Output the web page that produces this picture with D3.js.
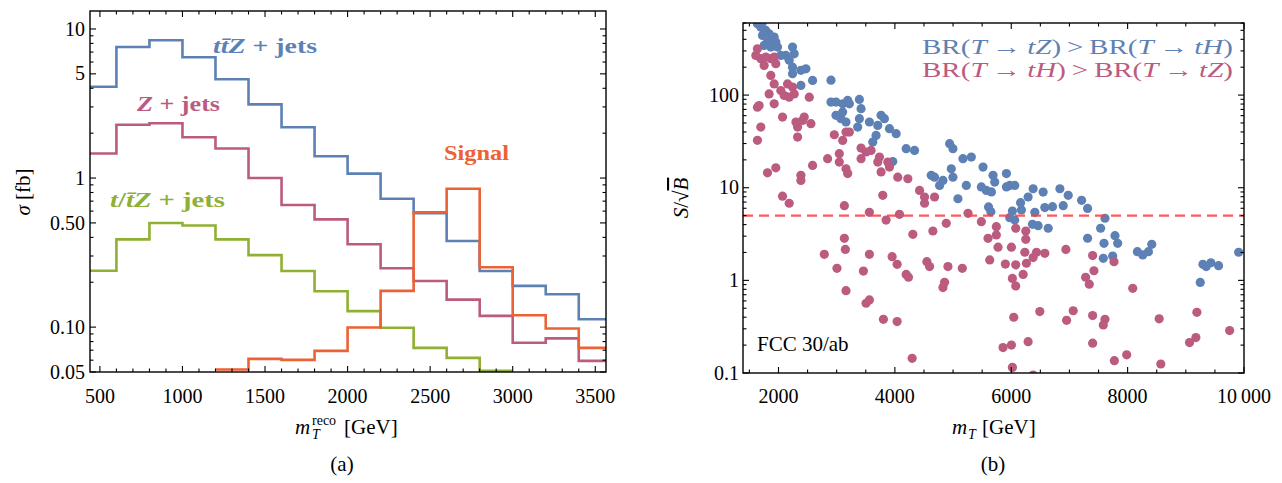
<!DOCTYPE html>
<html lang="en">
<head>
<meta charset="UTF-8" />
<title>Histograms and S/sqrt(B)</title>
<script src="https://d3js.org/d3.v7.min.js"></script>
<style>
  body { margin: 0; background: #ffffff; }
  svg text { font-family: "Liberation Serif", "DejaVu Serif", serif; }
</style>
</head>
<body>
<svg id="fig" width="1282" height="483"></svg>
<script>
// ---- panel (a): histogram bins (GeV) and cross sections (fb)
const binEdges = [400, 600, 800, 1000, 1200, 1400, 1600, 1800, 2000, 2200, 2400, 2600, 2800, 3000, 3200, 3400, 3600];
const ttZ    = [4.1, 7.57, 8.4, 6.46, 4.6, 3.12, 2.19, 1.40, 1.07, 0.726, 0.58, 0.378, 0.238, 0.189, 0.166, 0.113];
const Zjets  = [1.46, 2.28, 2.33, 1.88, 1.58, 1.0, 0.66, 0.528, 0.36, 0.248, 0.204, 0.153, 0.119, 0.0785, 0.084, 0.0594];
const tZjets = [0.239, 0.388, 0.50, 0.481, 0.388, 0.304, 0.238, 0.174, 0.128, 0.099, 0.0726, 0.0622, 0.051, null, null, null];
const signal = [null, null, null, null, 0.052, 0.0612, 0.0603, 0.0693, 0.0995, 0.175, 0.589, 0.848, 0.252, 0.12, 0.098, 0.0726];

const aXTicks = [500, 1000, 1500, 2000, 2500, 3000, 3500];
const aYTicks = [0.05, 0.1, 0.5, 1, 5, 10];
const aYLabels = ["0.05", "0.10", "0.50", "1", "5", "10"];

// ---- panel (b): scan points, m_T (GeV) and S/sqrt(B)
const blueMass = [1638, 1696, 1782, 1725, 1839, 1926, 1954, 1811, 1868, 1753, 1983, 2040, 2127, 2241, 2270, 2184, 2241, 2241, 2385, 2471,
  2385, 2586, 2902, 2902, 2988, 3103, 3189, 3218, 3390, 3419, 2988, 3103, 3074, 3160, 3390, 3361, 3562, 3706, 3763, 3821,
  3677, 3620, 3907, 4022, 4194, 4338, 3964, 4941, 4998, 5170, 5314, 4969, 4998, 4625, 4682, 4826, 4768, 5228, 5515, 5486,
  5572, 5659, 5084, 5687, 5716, 5917, 5917, 5974, 6060, 6376, 6548, 6836, 6979, 7209, 6290, 6160, 6020, 6175, 5974, 6060,
  5610, 5650, 6405, 6577, 6709, 6893, 7312, 6365, 6462, 6635, 7611, 7536, 7312, 7594, 7783, 7829, 7582, 7743, 8168, 8260,
  8358, 8415, 9294, 9351, 9431, 9563, 9248, 9908, 1660, 1720];
const blueSig = [589, 541, 499, 441, 459, 423, 373, 373, 330, 344, 330, 268, 268, 330, 279, 237, 200, 170, 185, 192,
  127, 144, 145, 84, 84, 80.5, 87.5, 80.5, 89.7, 71.3, 60.4, 65.6, 55.6, 51.2, 55.6, 45.2, 51.2, 47.1, 60.4, 55.6,
  36.7, 31.1, 43.4, 38.3, 26.4, 25.3, 19.2, 29.9, 26.4, 20.6, 21.4, 16.0, 13.0, 13.6, 13.0, 12.0, 10.6, 10.6, 16.7, 10.2,
  9.36, 9.0, 7.6, 13.6, 11.5, 14.2, 10.2, 10.6, 10.6, 9.75, 8.97, 9.75, 8.27, 7.31, 7.94, 6.9, 5.6, 5.75, 4.75, 4.48,
  6.2, 5.5, 5.42, 6.1, 6.25, 6.4, 5.98, 4.03, 3.89, 3.65, 4.68, 3.65, 2.85, 2.51, 3.04, 2.51, 1.73, 1.83, 2.04, 1.88,
  2.04, 2.45, 1.49, 1.41, 1.55, 1.44, 0.95, 2.01, 620, 600];

const pinkMass = [1638, 1610, 1696, 1782, 1868, 1926, 1954, 1753, 1868, 1926, 2155, 2040, 2098, 2184, 2270, 2241, 1839, 1926, 1667, 1638,
  2529, 1696, 1638, 2069, 2299, 2328, 2414, 2442, 2557, 2328, 2959, 3103, 3160, 3218, 3419, 3591, 3505, 3045, 2844, 3419,
  3735, 3706, 3878, 3907, 3045, 2586, 1954, 1811, 2385, 2385, 3160, 3189, 3763, 4050, 4223, 4424, 4510, 4682, 3792, 2069,
  2184, 3132, 3562, 3849, 4079, 4510, 4309, 4653, 4883, 5257, 5486, 5601, 5630, 3132, 3149, 2787, 3005, 3160, 3562, 3459,
  3953, 4039, 4194, 4234, 4550, 4596, 4912, 5159, 4854, 4826, 3505, 3562, 3803, 4039, 4297, 5744, 5744, 6077, 6250, 6250,
  5773, 6003, 6233, 6434, 6376, 6577, 6261, 5899, 6077, 6204, 6020, 6077, 6939, 7399, 7766, 7421, 7278, 7341, 8088, 6491,
  7065, 6043, 6951, 7399, 7611, 7582, 8542, 9190, 9753, 6290, 7399, 5859, 6003, 9064, 9173, 7772, 7984, 8570, 6020, 6376];
const pinkSig = [316, 268, 247, 257, 247, 257, 218, 209, 163, 132, 132, 112, 99, 95, 103, 122, 103, 80.5, 77, 74,
  95, 45.2, 32.5, 57.9, 51.2, 45.2, 53.3, 57.9, 49.1, 35.2, 37.3, 32.4, 39.9, 39.9, 26.8, 25.3, 24.3, 23.3, 20.6, 20.6,
  21.4, 18.9, 18.9, 16.7, 18.9, 17.4, 16.4, 14.5, 13.6, 12.0, 16.0, 14.2, 14.8, 13.0, 12.5, 9.36, 7.94, 7.94, 8.27, 8.1,
  6.8, 6.4, 5.42, 4.48, 5.16, 6.8, 3.14, 3.41, 4.13, 5.29, 4.3, 2.84, 1.66, 2.84, 2.16, 1.91, 1.35, 0.774, 1.91, 1.26,
  1.80, 1.49, 1.16, 1.08, 1.59, 1.41, 1.41, 1.35, 0.953, 0.835, 0.566, 0.615, 0.380, 0.359, 0.144, 3.8, 3.09, 3.65, 3.41, 2.77,
  2.28, 2.28, 2.01, 2.01, 1.76, 1.96, 1.53, 1.50, 1.47, 1.16, 1.05, 0.87, 2.16, 1.85, 1.59, 1.27, 1.08, 0.91, 0.82, 0.46,
  0.47, 0.40, 0.37, 0.417, 0.38, 0.33, 0.384, 0.452, 0.287, 0.218, 0.21, 0.188, 0.20, 0.213, 0.241, 0.136, 0.157, 0.125, 0.115, 0.095];

const bXTicks = [2000, 4000, 6000, 8000, 10000];
const bXLabels = ["2000", "4000", "6000", "8000", "10\u2009000"];
const bYTicks = [0.1, 1, 10, 100];
const bYLabels = ["0.1", "1", "10", "100"];
const threshold = 5;

const BLUE = "#5e81b5", PINK = "#bc5b80", GREEN = "#8fb032", ORANGE = "#eb6235";

const svg = d3.select("#fig");

// helper: ticks on all four sides, pointing inwards
function frame(g, x, y, xMajor, xMinor, yMajor, yMinor) {
  const [x0, x1] = x.range(), [y0, y1] = y.range();
  const lines = [];
  xMajor.forEach(v => lines.push([x(v), y0, x(v), y0 - 6], [x(v), y1, x(v), y1 + 6]));
  xMinor.forEach(v => lines.push([x(v), y0, x(v), y0 - 3.5], [x(v), y1, x(v), y1 + 3.5]));
  yMajor.forEach(v => lines.push([x0, y(v), x0 + 6, y(v)], [x1, y(v), x1 - 6, y(v)]));
  yMinor.forEach(v => lines.push([x0, y(v), x0 + 3.5, y(v)], [x1, y(v), x1 - 3.5, y(v)]));
  g.append("g").selectAll("line").data(lines).join("line")
    .attr("x1", d => d[0]).attr("y1", d => d[1]).attr("x2", d => d[2]).attr("y2", d => d[3])
    .attr("stroke", "#000").attr("stroke-width", 1.1);
  g.append("rect").attr("x", x0).attr("y", y1).attr("width", x1 - x0).attr("height", y0 - y1)
    .attr("fill", "none").attr("stroke", "#000").attr("stroke-width", 1.4);
}

// text made of upright / italic pieces, optionally stretched to a width
function richText(g, x, y, parts, opts) {
  const t = g.append("text").attr("x", x).attr("y", y)
    .attr("fill", opts.color || "#000").attr("font-size", opts.size || 20)
    .attr("font-weight", opts.weight || "normal")
    .attr("text-anchor", opts.anchor || "start");
  parts.forEach(([s, it]) => t.append("tspan").attr("font-style", it ? "italic" : "normal").text(s));
  if (opts.len) t.attr("textLength", opts.len).attr("lengthAdjust", "spacingAndGlyphs");
  return t;
}

// ================= panel (a)
const xa = d3.scaleLinear().domain([440, 3565]).range([90, 606]);
const ya = d3.scaleLog().domain([0.05, 13.2]).range([372, 11]);
const ga = svg.append("g");

ga.append("clipPath").attr("id", "clipA").append("rect")
  .attr("x", 90).attr("y", 11).attr("width", 516).attr("height", 361);

const stepLine = d3.line().x(d => xa(d[0])).y(d => ya(d[1])).curve(d3.curveStepAfter);
function stepPoints(vals) {
  const pts = [];
  let last = null;
  vals.forEach((v, i) => { if (v != null) { pts.push([binEdges[i], v]); last = i; } });
  pts.push([binEdges[last + 1], vals[last]]);
  return pts;
}
[[ttZ, BLUE], [Zjets, PINK], [tZjets, GREEN], [signal, ORANGE]].forEach(([vals, c]) => {
  ga.append("path").datum(stepPoints(vals))
    .attr("clip-path", "url(#clipA)")
    .attr("fill", "none").attr("stroke", c).attr("stroke-width", 2.6)
    .attr("d", stepLine);
});

const aXMinor = d3.range(500, 3600, 100).filter(v => !aXTicks.includes(v));
const aYMinor = ya.ticks().filter(v => !aYTicks.some(t => Math.abs(t - v) < 1e-9));
frame(ga, xa, ya, aXTicks, aXMinor, aYTicks, aYMinor);

ga.append("g").selectAll("text").data(aXTicks).join("text")
  .attr("x", d => xa(d)).attr("y", 403).attr("text-anchor", "middle")
  .attr("font-size", 20).text(d => d);
ga.append("g").selectAll("text").data(aYTicks).join("text")
  .attr("x", 85).attr("y", d => ya(d)).attr("dy", "0.33em").attr("text-anchor", "end")
  .attr("font-size", 20).text((d, i) => aYLabels[i]);

// series labels
richText(ga, 213, 53, [["t", 1], ["t\u0304", 1], ["Z", 1], [" + jets", 0]], { color: BLUE, size: 21, weight: "bold", len: 104 });
richText(ga, 137, 111, [["Z", 1], [" + jets", 0]], { color: PINK, size: 21, weight: "bold", len: 83 });
richText(ga, 110, 207, [["t", 1], ["/", 0], ["t\u0304", 1], ["Z", 1], [" + jets", 0]], { color: GREEN, size: 21, weight: "bold", len: 115 });
richText(ga, 444, 160, [["Signal", 0]], { color: ORANGE, size: 21, weight: "bold", len: 65 });

// axis titles
ga.append("text").attr("x", 295).attr("y", 434).attr("font-size", 21).attr("font-style", "italic").text("m");
ga.append("text").attr("x", 312).attr("y", 439).attr("font-size", 14).attr("font-style", "italic").text("T");
ga.append("text").attr("x", 312).attr("y", 425).attr("font-size", 14).text("reco");
ga.append("text").attr("x", 344).attr("y", 434).attr("font-size", 21).text("[GeV]");
ga.append("text").attr("transform", "translate(30,192) rotate(-90)").attr("text-anchor", "middle")
  .attr("font-size", 21).html('<tspan font-style="italic">σ</tspan> [fb]');
ga.append("text").attr("x", 342).attr("y", 471).attr("text-anchor", "middle").attr("font-size", 21).text("(a)");

// ================= panel (b)
const xb = d3.scaleLinear().domain([1390, 10000]).range([743, 1244]);
const yb = d3.scaleLog().domain([0.1, 600]).range([373, 23]);
const gb = svg.append("g");

gb.append("clipPath").attr("id", "clipB").append("rect")
  .attr("x", 743).attr("y", 23).attr("width", 501).attr("height", 350);

const pts = gb.append("g").attr("clip-path", "url(#clipB)");
pts.selectAll("circle.b").data(blueMass.map((m, i) => [m, blueSig[i]])).join("circle")
  .attr("class", "b").attr("cx", d => xb(d[0])).attr("cy", d => yb(d[1])).attr("r", 4.6).attr("fill", BLUE);
pts.selectAll("circle.p").data(pinkMass.map((m, i) => [m, pinkSig[i]])).join("circle")
  .attr("class", "p").attr("cx", d => xb(d[0])).attr("cy", d => yb(d[1])).attr("r", 4.6).attr("fill", PINK);

gb.append("line").attr("x1", 743).attr("x2", 1244).attr("y1", yb(threshold)).attr("y2", yb(threshold))
  .attr("stroke", "#ff3c3c").attr("stroke-opacity", 0.85).attr("stroke-width", 2.4)
  .attr("stroke-dasharray", "10,6");

const bXMinor = d3.range(1500, 10000, 500).filter(v => !bXTicks.includes(v));
const bYMinor = yb.ticks().filter(v => !bYTicks.some(t => Math.abs(t - v) < 1e-9));
frame(gb, xb, yb, bXTicks, bXMinor, bYTicks, bYMinor);

gb.append("g").selectAll("text").data(bXTicks).join("text")
  .attr("x", d => xb(d)).attr("y", 403).attr("text-anchor", "middle")
  .attr("font-size", 20).text((d, i) => bXLabels[i]);
gb.append("g").selectAll("text").data(bYTicks).join("text")
  .attr("x", 739).attr("y", d => yb(d)).attr("dy", "0.33em").attr("text-anchor", "end")
  .attr("font-size", 20).text((d, i) => bYLabels[i]);

const arrow = "\u2009\u2192\u2009";
richText(gb, 1233, 54, [["BR(", 0], ["T", 1], [arrow, 0], ["tZ", 1], [")\u2009>\u2009BR(", 0], ["T", 1], [arrow, 0], ["tH", 1], [")", 0]],
  { color: BLUE, size: 22, anchor: "end", len: 311 });
richText(gb, 1233, 77, [["BR(", 0], ["T", 1], [arrow, 0], ["tH", 1], [")\u2009>\u2009BR(", 0], ["T", 1], [arrow, 0], ["tZ", 1], [")", 0]],
  { color: PINK, size: 22, anchor: "end", len: 311 });

gb.append("text").attr("x", 757).attr("y", 351).attr("font-size", 21).text("FCC 30/ab");

gb.append("text").attr("x", 952).attr("y", 434).attr("font-size", 21).attr("font-style", "italic").text("m");
gb.append("text").attr("x", 968).attr("y", 439).attr("font-size", 14).attr("font-style", "italic").text("T");
gb.append("text").attr("x", 982).attr("y", 434).attr("font-size", 21).text("[GeV]");

const ytb = gb.append("text").attr("transform", "translate(688,198) rotate(-90)").attr("text-anchor", "middle").attr("font-size", 21);
ytb.append("tspan").attr("font-style", "italic").text("S");
ytb.append("tspan").text("/\u221A");
ytb.append("tspan").attr("font-style", "italic").attr("text-decoration", "overline").text("B");

gb.append("text").attr("x", 993).attr("y", 471).attr("text-anchor", "middle").attr("font-size", 21).text("(b)");
</script>
</body>
</html>
